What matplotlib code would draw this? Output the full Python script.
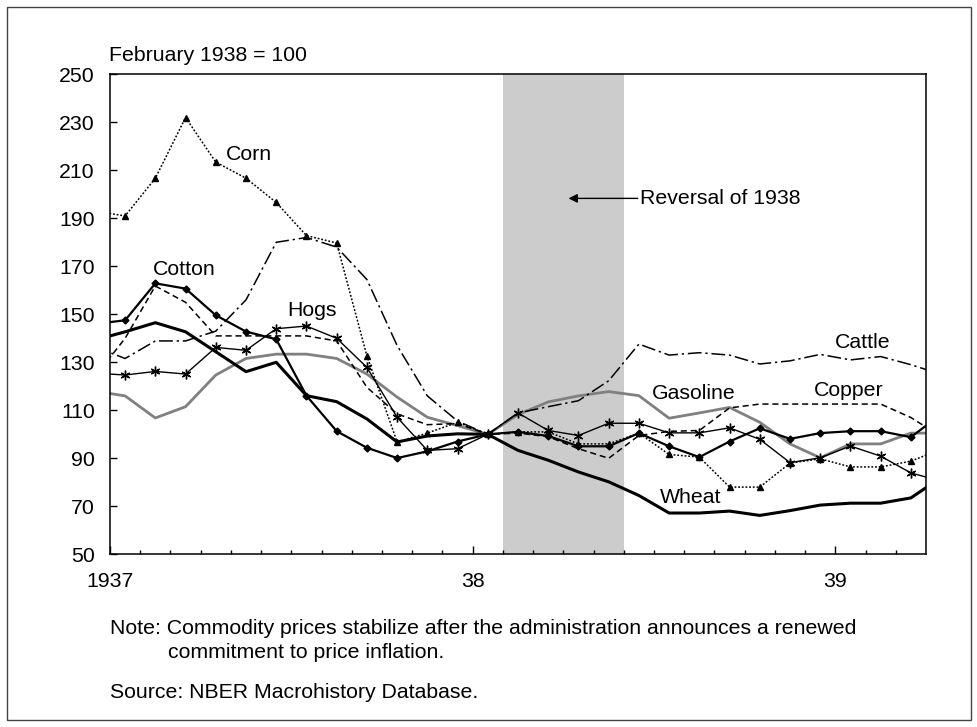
import numpy as np
import matplotlib
matplotlib.use("Agg")
import matplotlib.pyplot as plt
from matplotlib.patches import Rectangle

plt.rcParams['font.family'] = ['Liberation Sans', 'DejaVu Sans']
FS = 15.3
plt.rcParams['font.size'] = FS

# Monthly index values (February 1938 = 100); first and last values sit just outside the frame
corn = [193, 191, 206.7, 232, 213.4, 206.7, 196.6, 182.8, 179.7, 132.7, 96.8, 100.5, 105, 100,
        101, 101, 96, 96, 100.5, 91.6, 90.5, 78, 78, 88, 89.8, 86.4, 86.4, 88.8, 93.8]
cotton = [146, 147.5, 162.9, 160.7, 149.6, 142.8, 139.6, 116.1, 101.3, 94.4, 90.1, 92.9, 97, 100,
          101, 99.3, 95, 95, 100.5, 95, 90.5, 97, 102.5, 98.1, 100.5, 101.3, 101.3, 98.8, 108.4]
wheat = [139.3, 142.7, 146.5, 142.7, 134.4, 126.1, 130, 116.1, 113.6, 106.4, 96.8, 99.3, 100.2, 100,
         93.3, 89.2, 84.3, 80.2, 74.5, 67.2, 67.2, 68, 66.2, 68.2, 70.5, 71.3, 71.3, 73.5, 82]
hogs = [125.5, 124.7, 126.2, 125.1, 136.2, 135, 144, 145.1, 140, 127.9, 107.1, 93.3, 94, 100,
        108.9, 101.6, 99.5, 104.6, 104.6, 100.6, 100.6, 102.7, 97.9, 88.2, 90.2, 95.1, 90.9, 83.9, 80.5]
gasoline = [118, 116, 106.8, 111.5, 124.7, 131.6, 133.4, 133.4, 131.6, 125.1, 115.5, 107.1, 103.6, 100,
            108.2, 113.5, 116, 117.8, 116.1, 106.7, 108.9, 111.2, 105, 96, 90.2, 96, 96, 100.5, 100.5]
copper = [124, 140, 161.8, 155, 141, 141, 141, 141, 138.9, 119.6, 108.5, 104, 104.5, 100,
          100.5, 99, 94, 90, 99.5, 101.2, 101.6, 111, 112.6, 112.6, 112.6, 112.6, 112.6, 107, 99]
cattle = [136.4, 131.6, 138.9, 138.9, 143, 156, 180, 182, 178, 164.5, 137, 116, 105.5, 100,
          108.9, 111.5, 114, 122.3, 137.6, 133, 134, 133, 129.3, 130.6, 133.3, 131, 132.4, 129, 125]

year_labels = ['1937', '38', '39']
y_ticks = list(range(50, 251, 20))

x = np.arange(len(corn)) - 0.5  # mid-month positions, months since start of 1937

fig = plt.figure(figsize=(9.78, 7.27), dpi=100)
ax = fig.add_axes([110 / 978, (727 - 554.3) / 727, 816 / 978, 480 / 727])

ax.axvspan(13, 17, color='#cccccc', lw=0, zorder=0)

ax.plot(x, gasoline, color='#808080', lw=2.0, zorder=2)
ax.plot(x, wheat, color='black', lw=2.2, zorder=3)
ax.plot(x, cattle, color='black', lw=1.1, dashes=(9, 2.5, 1.5, 2.5), zorder=3)
ax.plot(x, copper, color='black', lw=1.1, dashes=(4, 2.5), zorder=3)
ax.plot(x, corn, color='black', lw=1.1, dashes=(1.2, 1.2), marker='^', markersize=5, zorder=4)
ax.plot(x, hogs, color='black', lw=1.0, marker=(6, 2, 0), markersize=7, markeredgewidth=1.0, zorder=4)
ax.plot(x, cotton, color='black', lw=1.6, marker='D', markersize=3.5, zorder=4)

ax.set_xlim(0, 27)
ax.set_ylim(50, 250)
ax.set_xticks([0, 12, 24])
ax.set_xticklabels(year_labels)
ax.set_xticks([m for m in range(1, 27) if m % 12 != 0], minor=True)
ax.set_yticks(y_ticks)
ax.tick_params(axis='y', direction='in', length=5, width=1, pad=11, labelsize=FS)
ax.tick_params(axis='x', which='major', direction='in', length=5.5, width=1, pad=13, labelsize=FS)
ax.tick_params(axis='x', which='minor', direction='in', length=3, width=1)
for s in ax.spines.values():
    s.set_linewidth(1.1)
    s.set_color('black')

# series labels
ax.text(3.84, 216.6, 'Corn', ha='left', va='center', fontsize=FS)
ax.text(1.42, 168.6, 'Cotton', ha='left', va='center', fontsize=FS)
ax.text(5.85, 151.6, 'Hogs', ha='left', va='center', fontsize=FS)
ax.text(23.98, 138.3, 'Cattle', ha='left', va='center', fontsize=FS)
ax.text(23.29, 118.3, 'Copper', ha='left', va='center', fontsize=FS)
ax.text(17.94, 116.8, 'Gasoline', ha='left', va='center', fontsize=FS)
ax.text(18.21, 73.5, 'Wheat', ha='left', va='center', fontsize=FS)

ax.annotate('', xy=(15.17, 198.3), xytext=(17.46, 198.3),
            arrowprops=dict(arrowstyle='-|>', color='black', lw=1.0, mutation_scale=13,
                            shrinkA=0, shrinkB=0))
ax.text(17.55, 198.3, 'Reversal of 1938', ha='left', va='center', fontsize=FS)

fig.text(109 / 978, 1 - 55.5 / 727, 'February 1938 = 100', ha='left', va='center', fontsize=FS)
fig.text(110 / 978, 1 - 628 / 727,
         'Note: Commodity prices stabilize after the administration announces a renewed',
         ha='left', va='center', fontsize=FS)
fig.text(168 / 978, 1 - 653 / 727, 'commitment to price inflation.', ha='left', va='center', fontsize=FS)
fig.text(110 / 978, 1 - 692.5 / 727, 'Source: NBER Macrohistory Database.', ha='left', va='center', fontsize=FS)

fig.patches.append(Rectangle((7 / 978, 7 / 727), 964 / 978, 713 / 727, transform=fig.transFigure,
                             fill=False, edgecolor='#444444', lw=1.0))

fig.savefig('out.png', dpi=100)
